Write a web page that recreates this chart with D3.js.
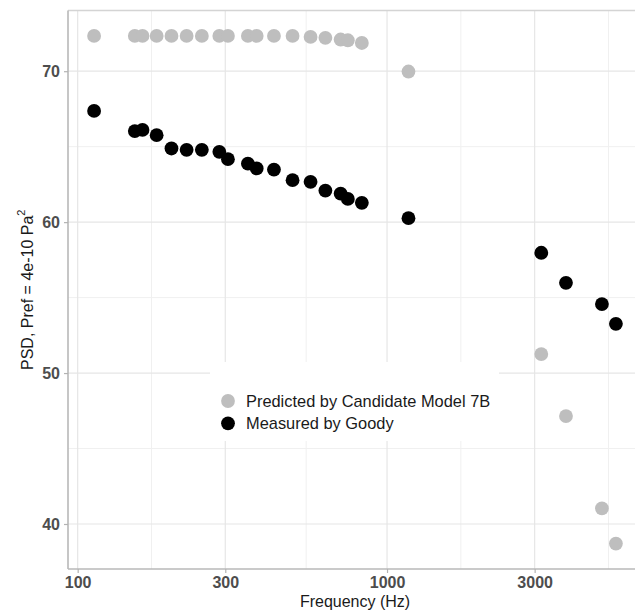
<!DOCTYPE html>
<html>
<head>
<meta charset="utf-8">
<script src="https://cdn.jsdelivr.net/npm/d3@7"></script>
<style>
  html, body { margin: 0; padding: 0; background: #fff; }
  svg { display: block; font-family: "Liberation Sans", Arial, sans-serif; }
</style>
</head>
<body>
<svg id="chart" width="635" height="612"></svg>
<script>
// Frequencies of each measurement (Hz)
const frequency = [113, 153, 162, 180, 201, 225, 252, 287, 306, 355, 379, 431, 495, 566, 632, 708, 747, 829, 1173, 3152, 3788, 4950, 5493];
// PSD predicted by the candidate model
const predicted = [72.34, 72.34, 72.34, 72.34, 72.34, 72.34, 72.34, 72.34, 72.34, 72.34, 72.34, 72.34, 72.34, 72.27, 72.21, 72.10, 72.05, 71.87, 69.98, 51.26, 47.15, 41.04, 38.70];
// PSD measured by Goody
const measured = [67.37, 66.03, 66.11, 65.76, 64.88, 64.79, 64.79, 64.66, 64.17, 63.87, 63.56, 63.48, 62.78, 62.67, 62.09, 61.89, 61.54, 61.28, 60.26, 57.97, 55.98, 54.57, 53.26];

const seriesNames = ["Predicted by Candidate Model 7B", "Measured by Goody"];
const seriesColors = ["#BEBEBE", "#000000"];

const xTicks = [100, 300, 1000, 3000];
const xMinor = [173.2, 547.7, 1732, 5196];
const yTicks = [40, 50, 60, 70];
const yMinor = [45, 55, 65];

const svg = d3.select("#chart");
const pLeft = 68, pRight = 642, pTop = 10.5, pBottom = 569;

// 5% expansion on each side, in log space for x
const lx = frequency.map(Math.log10);
const lmin = d3.min(lx), lmax = d3.max(lx), lr = lmax - lmin;
const x = d3.scaleLog()
  .domain([Math.pow(10, lmin - 0.05 * lr), Math.pow(10, lmax + 0.05 * lr)])
  .range([pLeft, pRight]);

const allY = predicted.concat(measured);
const ymin = d3.min(allY), ymax = d3.max(allY), yr = ymax - ymin;
const y = d3.scaleLinear()
  .domain([ymin - 0.05 * yr, ymax + 0.05 * yr])
  .range([pBottom, pTop]);

// Grid
const grid = svg.append("g");
grid.selectAll(".xminor").data(xMinor).join("line")
  .attr("x1", d => x(d)).attr("x2", d => x(d)).attr("y1", pTop).attr("y2", pBottom)
  .attr("stroke", "#F0F0F0").attr("stroke-width", 1);
grid.selectAll(".yminor").data(yMinor).join("line")
  .attr("y1", d => y(d)).attr("y2", d => y(d)).attr("x1", pLeft).attr("x2", pRight)
  .attr("stroke", "#F0F0F0").attr("stroke-width", 1);
grid.selectAll(".xmajor").data(xTicks).join("line")
  .attr("x1", d => x(d)).attr("x2", d => x(d)).attr("y1", pTop).attr("y2", pBottom)
  .attr("stroke", "#E6E6E6").attr("stroke-width", 1.2);
grid.selectAll(".ymajor").data(yTicks).join("line")
  .attr("y1", d => y(d)).attr("y2", d => y(d)).attr("x1", pLeft).attr("x2", pRight)
  .attr("stroke", "#E6E6E6").attr("stroke-width", 1.2);

// Panel border
svg.append("line").attr("x1", pLeft).attr("x2", pRight).attr("y1", pTop).attr("y2", pTop)
  .attr("stroke", "#D4D4D4").attr("stroke-width", 1.6);
svg.append("line").attr("x1", pLeft).attr("x2", pLeft).attr("y1", pTop).attr("y2", pBottom)
  .attr("stroke", "#B8B8B8").attr("stroke-width", 1.6);
svg.append("line").attr("x1", pLeft).attr("x2", pRight).attr("y1", pBottom).attr("y2", pBottom)
  .attr("stroke", "#B8B8B8").attr("stroke-width", 1.6);

// Axes
const xAxis = svg.append("g").attr("transform", `translate(0,${pBottom})`)
  .call(d3.axisBottom(x).tickValues(xTicks).tickFormat(d3.format("d")).tickSize(4).tickPadding(4));
const yAxis = svg.append("g").attr("transform", `translate(${pLeft},0)`)
  .call(d3.axisLeft(y).tickValues(yTicks).tickSize(4).tickPadding(4));
[xAxis, yAxis].forEach(a => {
  a.select(".domain").remove();
  a.selectAll(".tick line").attr("stroke", "#B3B3B3").attr("stroke-width", 1.2);
  a.selectAll(".tick text").attr("fill", "#4D4D4D").attr("font-size", 16)
    .attr("font-weight", "bold").attr("font-family", "Liberation Sans, Arial, sans-serif");
});
yAxis.selectAll(".tick text").attr("dy", "0.36em");

// Axis titles
svg.append("text").attr("x", (pLeft + pRight) / 2).attr("y", 607)
  .attr("text-anchor", "middle").attr("font-size", 16).attr("fill", "#1A1A1A")
  .text("Frequency (Hz)");
const yt = svg.append("text")
  .attr("transform", `translate(33,${(pTop + pBottom) / 2}) rotate(-90)`)
  .attr("text-anchor", "middle").attr("font-size", 16).attr("fill", "#1A1A1A");
yt.append("tspan").text("PSD, Pref = 4e-10 Pa");
yt.append("tspan").attr("font-size", 11).attr("dy", -8).text("2");

// Points
const series = [predicted, measured];
series.forEach((vals, i) => {
  svg.append("g").selectAll("circle")
    .data(frequency.map((f, j) => ({ f, v: vals[j] })))
    .join("circle")
    .attr("cx", d => x(d.f)).attr("cy", d => y(d.v))
    .attr("r", 6.9).attr("fill", seriesColors[i]);
});

// Legend
const lg = svg.append("g");
lg.append("rect").attr("x", 210).attr("y", 362).attr("width", 289).attr("height", 79).attr("fill", "#fff");
seriesNames.forEach((name, i) => {
  const cy = 401 + i * 22.3;
  lg.append("circle").attr("cx", 228).attr("cy", cy).attr("r", 6.9).attr("fill", seriesColors[i]);
  lg.append("text").attr("x", 246).attr("y", cy).attr("dy", "0.36em")
    .attr("font-size", 16.4).attr("fill", "#1A1A1A").text(name);
});
</script>
</body>
</html>
